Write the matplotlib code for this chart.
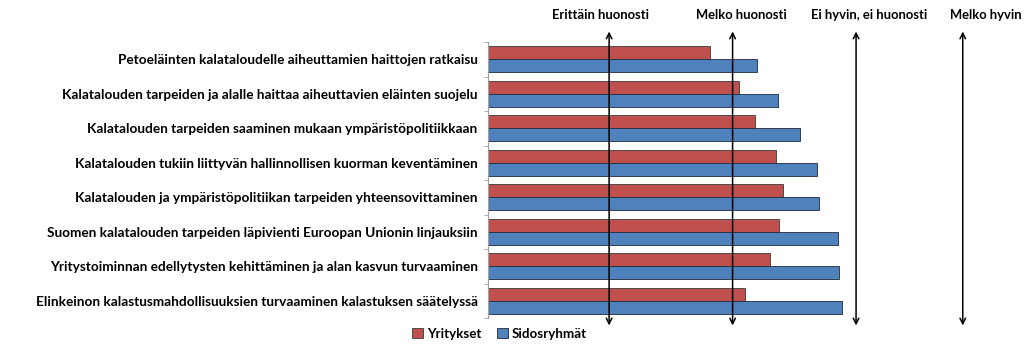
import matplotlib.pyplot as plt
import numpy as np

plt.rcParams['font.family'] = ['Lato', 'DejaVu Sans']

categories = [
    "Petoeläinten kalataloudelle aiheuttamien haittojen ratkaisu",
    "Kalatalouden tarpeiden ja alalle haittaa aiheuttavien eläinten suojelu",
    "Kalatalouden tarpeiden saaminen mukaan ympäristöpolitiikkaan",
    "Kalatalouden tukiin liittyvän hallinnollisen kuorman keventäminen",
    "Kalatalouden ja ympäristöpolitiikan tarpeiden yhteensovittaminen",
    "Suomen kalatalouden tarpeiden läpivienti Euroopan Unionin linjauksiin",
    "Yritystoiminnan edellytysten kehittäminen ja alan kasvun turvaaminen",
    "Elinkeinon kalastusmahdollisuuksien turvaaminen kalastuksen säätelyssä",
]
yritykset = [1.85, 2.09, 2.23, 2.40, 2.46, 2.43, 2.35, 2.14]
sidosryhmat = [2.24, 2.42, 2.60, 2.74, 2.76, 2.92, 2.93, 2.95]

scale_labels = ["Erittäin huonosti", "Melko huonosti", "Ei hyvin, ei huonosti", "Melko hyvin"]
scale_pos = [1.01, 2.04, 3.07, 3.96]
label_pos = [0.94, 2.11, 3.18, 4.15]

fig = plt.figure(figsize=(10.24, 3.56), dpi=100)
ax = fig.add_axes([0.4766, 0.1067, 0.5034, 0.7753])

y = np.arange(len(categories))
h = 0.38
ax.barh(y - h / 2, yritykset, height=h, color='#C0504D', edgecolor='#3a3a3a', linewidth=0.6, label='Yritykset')
ax.barh(y + h / 2, sidosryhmat, height=h, color='#4F81BD', edgecolor='#1f2a3a', linewidth=0.6, label='Sidosryhmät')

ax.set_xlim(0, 4.3)
ax.set_ylim(len(categories) - 0.5, -0.5)
ax.set_yticks(y)
ax.set_yticklabels(categories, fontsize=9.8, fontweight='bold')
ax.tick_params(axis='y', which='major', length=0, pad=7.5)
ax.set_yticks(np.arange(len(categories) + 1) - 0.5, minor=True)
ax.tick_params(axis='y', which='minor', length=3, color='#a0a0a0')
ax.set_xticks([])
for s in ['top', 'right', 'bottom']:
    ax.spines[s].set_visible(False)
ax.spines['left'].set_color('#a0a0a0')

for xp in scale_pos:
    ax.annotate('', xy=(xp, 1.038), xytext=(xp, -0.027),
                xycoords=('data', 'axes fraction'), textcoords=('data', 'axes fraction'),
                arrowprops=dict(arrowstyle='<->', color='black', lw=1.1, shrinkA=0, shrinkB=0),
                annotation_clip=False)
for xp, lab in zip(label_pos, scale_labels):
    ax.text(xp, 1.098, lab, transform=ax.get_xaxis_transform(), ha='center', va='center',
            fontsize=9.4, fontweight='bold', clip_on=False)

fig.legend(loc='center', bbox_to_anchor=(0.488, 0.062), ncol=2, frameon=False,
           handlelength=0.8, handleheight=0.8, handletextpad=0.3, columnspacing=1.2,
           prop={'size': 9.6, 'weight': 'bold'})

fig.savefig('out.png', dpi=100)
